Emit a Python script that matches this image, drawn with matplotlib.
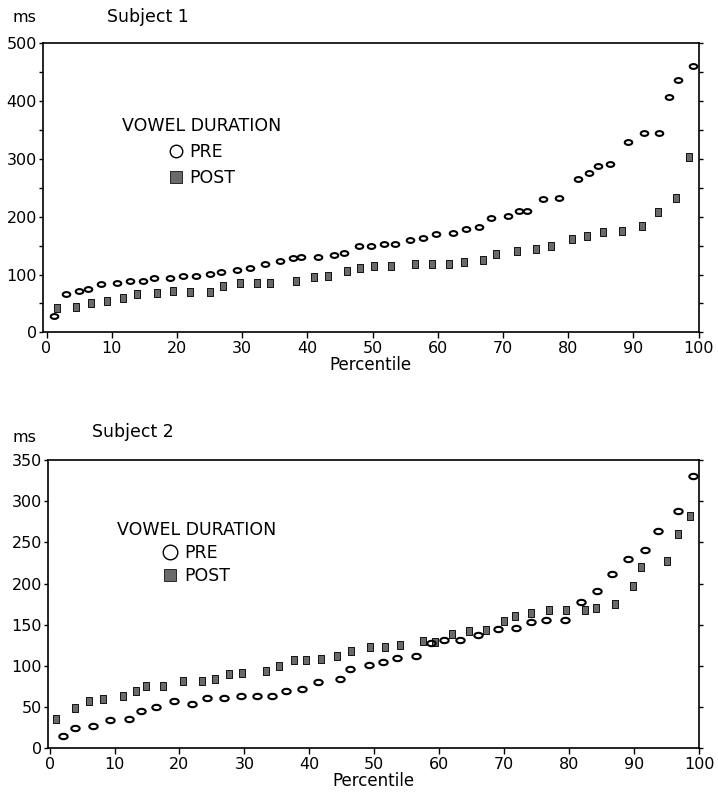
import numpy as np
import matplotlib
matplotlib.use("Agg")
import matplotlib.pyplot as plt
from matplotlib.path import Path
from matplotlib.lines import Line2D
from matplotlib.ticker import MultipleLocator

plt.rcParams['font.family'] = ['DejaVu Sans']

# ---------------- data ----------------
s1_pre_pct = [1.1, 3.0, 4.9, 6.4, 8.4, 10.8, 12.8, 14.8, 16.5, 18.9,
              20.9, 22.9, 25.1, 26.8, 29.2, 31.2, 33.5, 35.8, 37.8, 39.0,
              41.6, 44.1, 45.7, 48.0, 49.7, 51.7, 53.5, 55.8, 57.8, 59.8,
              62.4, 64.4, 66.3, 68.2, 70.8, 72.4, 73.7, 76.1, 78.6, 81.5,
              83.2, 84.6, 86.5, 89.2, 91.7, 93.9, 95.5, 96.9, 99.1]
s1_pre_ms = [28, 66, 71, 75, 83, 85, 89, 88, 94, 94,
             98, 98, 101, 104, 108, 111, 118, 123, 129, 130,
             130, 133, 137, 150, 150, 153, 153, 160, 164, 170,
             172, 179, 182, 198, 201, 209, 210, 230, 233, 265,
             275, 288, 291, 329, 345, 345, 407, 437, 461]

s1_post_pct = [1.6, 4.5, 6.8, 9.2, 11.7, 13.8, 16.9, 19.4, 22.0, 25.1,
               27.1, 29.7, 32.3, 34.3, 38.3, 41.0, 43.1, 46.1, 48.1, 50.2,
               52.9, 56.5, 59.1, 61.7, 64.0, 66.9, 69.0, 72.2, 75.0, 77.3,
               80.6, 82.9, 85.3, 88.3, 91.4, 93.8, 96.5, 98.5]
s1_post_ms = [42, 44, 51, 54, 60, 66, 68, 72, 70, 70,
              80, 85, 86, 86, 89, 96, 98, 106, 112, 115,
              114, 119, 119, 119, 122, 125, 136, 141, 144, 150,
              161, 167, 173, 176, 184, 208, 232, 304]

s2_pre_pct = [2.1, 3.9, 6.7, 9.3, 12.3, 14.1, 16.4, 19.1, 21.9, 24.2,
              26.8, 29.5, 32.0, 34.2, 36.4, 38.9, 41.3, 44.7, 46.3, 49.2,
              51.4, 53.5, 56.4, 58.7, 60.7, 63.2, 65.9, 69.0, 71.8, 74.2,
              76.4, 79.3, 81.9, 84.3, 86.6, 89.1, 91.7, 93.7, 96.7, 99.0]
s2_pre_ms = [15, 25, 27, 34, 36, 45, 50, 57, 54, 61,
             61, 64, 63, 63, 70, 72, 81, 84, 96, 101,
             105, 110, 112, 128, 131, 131, 138, 145, 146, 153,
             156, 156, 178, 191, 212, 230, 241, 264, 288, 331]

s2_post_pct = [1.0, 3.9, 6.0, 8.3, 11.3, 13.3, 14.9, 17.5, 20.6, 23.5,
               25.5, 27.6, 29.6, 33.4, 35.4, 37.7, 39.5, 41.8, 44.3, 46.4,
               49.4, 51.7, 54.0, 57.5, 59.4, 62.0, 64.6, 67.2, 70.0, 71.7,
               74.1, 76.9, 79.5, 82.4, 84.1, 87.0, 89.9, 91.1, 95.1, 96.8,
               98.6]
s2_post_ms = [35, 49, 57, 60, 64, 69, 76, 76, 82, 82,
              84, 90, 92, 94, 100, 107, 107, 109, 112, 118,
              123, 123, 125, 130, 129, 139, 143, 144, 155, 161,
              164, 168, 168, 168, 170, 175, 197, 220, 227, 260,
              282]

x_ticks = [0, 10, 20, 30, 40, 50, 60, 70, 80, 90, 100]
legend_title = "VOWEL DURATION"
series_labels = ["PRE", "POST"]

# ---------------- marker shapes ----------------
t = np.linspace(0, 2 * np.pi, 60)
ellipse = Path(np.column_stack([np.cos(t), 0.64 * np.sin(t)]), closed=True)
rect = Path([(-0.8, -1), (0.8, -1), (0.8, 1), (-0.8, 1), (-0.8, -1)], closed=True)

POST_FACE = '#6a6a6a'
POST_EDGE = '#111111'

fig = plt.figure(figsize=(7.18, 7.95), dpi=100)
W, H = 718, 795


def axes_px(l, t_, r, b):
    return fig.add_axes([l / W, 1 - b / H, (r - l) / W, (b - t_) / H])


def style(ax, ymax, label_step):
    for s in ax.spines.values():
        s.set_linewidth(1.2)
        s.set_color('black')
    ax.set_xticks(x_ticks)
    ax.yaxis.set_major_locator(MultipleLocator(label_step))
    ax.yaxis.set_minor_locator(MultipleLocator(50))
    ax.tick_params(axis='x', which='major', direction='out', length=4,
                   width=1.0, pad=2.5, labelsize=11.5, top=False)
    ax.tick_params(axis='y', which='both', direction='out', length=3,
                   width=1.0, pad=1.5, labelsize=11.5, right=True)
    ax.tick_params(axis='y', which='minor', length=3)
    ax.set_ylim(0, ymax)
    ax.set_xlabel("Percentile", fontsize=12, labelpad=0)


def legend(ax, anchor, circ_ms, sq_ms, spacing):
    handles = [
        Line2D([], [], linestyle='none', marker='o', markersize=circ_ms,
               markerfacecolor='none', markeredgecolor='black', markeredgewidth=1.0),
        Line2D([], [], linestyle='none', marker='s', markersize=sq_ms,
               markerfacecolor=POST_FACE, markeredgecolor=POST_EDGE, markeredgewidth=0.6),
    ]
    ax.legend(handles, series_labels, title=legend_title, loc='upper left',
              bbox_to_anchor=anchor, frameon=False, fontsize=12.5,
              title_fontsize=12.5, handlelength=0.9, handletextpad=0.35,
              labelspacing=spacing, borderpad=0, borderaxespad=0)


# ---------------- Subject 1 ----------------
ax1 = axes_px(43.3, 43.3, 698.5, 332.3)
ax1.plot(s1_post_pct, s1_post_ms, linestyle='none', marker=rect, markersize=5.6,
         markerfacecolor=POST_FACE, markeredgecolor=POST_EDGE, markeredgewidth=0.7)
ax1.plot(s1_pre_pct, s1_pre_ms, linestyle='none', marker=ellipse, markersize=5.4,
         markerfacecolor='none', markeredgecolor='black', markeredgewidth=1.5)
ax1.set_xlim(-0.5, 100)
style(ax1, 500, 100)
legend(ax1, (0.12, 0.745), 9, 9, 0.45)

fig.text(13 / W, 1 - 17 / H, "ms", fontsize=11.5, va='center', ha='left')
fig.text(107 / W, 1 - 17 / H, "Subject 1", fontsize=12.5, va='center', ha='left')

# ---------------- Subject 2 ----------------
ax2 = axes_px(48.3, 460, 699, 748.3)
ax2.plot(s2_post_pct, s2_post_ms, linestyle='none', marker=rect, markersize=5.6,
         markerfacecolor=POST_FACE, markeredgecolor=POST_EDGE, markeredgewidth=0.7)
ax2.plot(s2_pre_pct, s2_pre_ms, linestyle='none', marker=ellipse, markersize=6.0,
         markerfacecolor='none', markeredgecolor='black', markeredgewidth=1.5)
ax2.set_xlim(-0.2, 100)
style(ax2, 350, 50)
legend(ax2, (0.105, 0.79), 10.5, 9, 0.3)

fig.text(13 / W, 1 - 438 / H, "ms", fontsize=11.5, va='center', ha='left')
fig.text(92 / W, 1 - 432 / H, "Subject 2", fontsize=12.5, va='center', ha='left')

fig.savefig("out.png", dpi=100)
